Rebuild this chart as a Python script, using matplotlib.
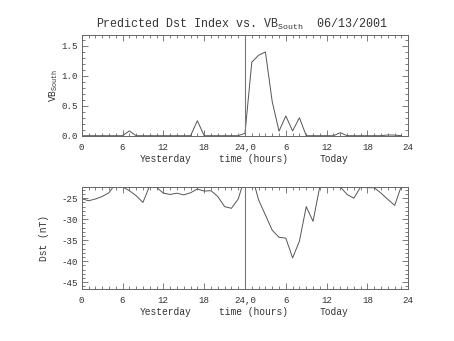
import matplotlib
matplotlib.use("Agg")
import matplotlib.pyplot as plt
import numpy as np
from matplotlib.ticker import MultipleLocator, FixedLocator

plt.rcParams['font.family'] = ['Liberation Mono', 'DejaVu Sans Mono']
plt.rcParams['mathtext.fontset'] = 'custom'
plt.rcParams['mathtext.rm'] = 'Liberation Mono'
plt.rcParams['axes.unicode_minus'] = False

hours = list(range(48))
vb_south = [0, 0, 0, 0, 0, 0, 0, 0.08, 0, 0,
            0, 0, 0, 0, 0, 0, 0, 0.25, 0, 0,
            0, 0, 0, 0, 0.04, 1.23, 1.345, 1.40, 0.57, 0.075,
            0.33, 0.08, 0.30, 0, 0, 0, 0, 0, 0.05, 0,
            0, 0, 0, 0, 0, 0.012, 0.01, 0]
dst = [-25.1, -25.6, -25.2, -24.6, -23.7, -21.5, -22.3, -23.2, -24.4, -26.0,
       -22.0, -22.4, -23.8, -24.1, -23.8, -24.2, -23.7, -22.8, -23.3, -23.2,
       -24.6, -27.0, -27.4, -25.2, -20.0, -19.5, -25.4, -29.0, -32.6, -34.3,
       -34.5, -39.2, -35.2, -27.0, -30.5, -22.2, -21.0, -21.0, -22.3, -24.1,
       -25.0, -22.3, -22.5, -22.5, -23.8, -25.3, -26.7, -22.0]

xticks = [0, 6, 12, 18, 24, 30, 36, 42, 48]
xticklabels = ['0', '6', '12', '18', '24,0', '6', '12', '18', '24']
title_main = 'Predicted Dst Index vs. VB$_{\\mathrm{South}}$  06/13/2001'

W, H = 454, 341
fig = plt.figure(figsize=(W / 100, H / 100), dpi=100)

line_col = '#555555'
ax_col = '#666666'
txt_col = '#333333'
fs = 6.9
tfs = 6.6

def style(ax, ymajor, yminor):
    ax.set_xlim(0, 48)
    ax.xaxis.set_major_locator(FixedLocator(xticks))
    ax.set_xticklabels(xticklabels, fontsize=tfs)
    ax.xaxis.set_minor_locator(MultipleLocator(1))
    ax.yaxis.set_major_locator(MultipleLocator(ymajor))
    ax.yaxis.set_minor_locator(MultipleLocator(yminor))
    ax.tick_params(which='both', direction='in', top=True, right=True,
                   colors=ax_col, labelcolor=txt_col, width=0.6)
    ax.tick_params(which='major', length=4.3, labelsize=tfs)
    ax.tick_params(axis='x', which='major', pad=5)
    ax.tick_params(axis='y', which='major', pad=3)
    ax.tick_params(which='minor', length=2.2)
    for s in ax.spines.values():
        s.set_color(ax_col)
        s.set_linewidth(0.7)
    ax.axvline(24, color='#777777', lw=0.8)
    tr = ax.get_xaxis_transform()
    for xx, txt in [(12.3, 'Yesterday'), (25.2, 'time (hours)'), (37.0, 'Today')]:
        ax.text(xx, -0.225, txt, transform=tr, ha='center', va='center',
                fontsize=fs, color=txt_col)

left = 81.7 / W
width = 326.6 / W
hgt = 101.7 / H

ax1 = fig.add_axes([left, 1 - 136.3 / H, width, hgt])
ax1.plot(hours, vb_south, color=line_col, lw=0.7)
ax1.set_ylim(-0.01, 1.69)
style(ax1, 0.5, 0.1)
ax1.yaxis.set_major_formatter(matplotlib.ticker.FormatStrFormatter('%.1f'))
ax1.set_ylabel('VB$_{\\mathrm{South}}$', fontsize=fs, color=txt_col)
ax1.yaxis.set_label_coords(-0.066, 0.5)

ax2 = fig.add_axes([left, 1 - 289 / H, width, hgt])
ax2.plot(hours, dst, color=line_col, lw=0.7)
ax2.set_ylim(-46.6, -22.4)
style(ax2, 5, 1)
ax2.set_ylabel('Dst (nT)', fontsize=fs, color=txt_col)
ax2.yaxis.set_label_coords(-0.100, 0.5)

fig.text(242 / W, 1 - 24 / H, title_main, ha='center', va='center',
         fontsize=8.4, color=txt_col)

fig.savefig('out.png', dpi=100, facecolor='white')
